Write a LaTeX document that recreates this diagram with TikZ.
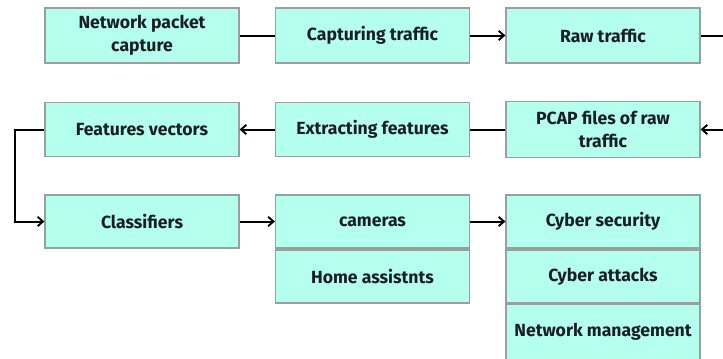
\documentclass[tikz,border=0pt]{standalone}
\usepackage{fontspec}
\setmainfont{Fira Sans}
\usetikzlibrary{arrows.meta}
\definecolor{boxfill}{RGB}{181,255,238}
\definecolor{boxline}{RGB}{150,160,158}
\definecolor{txt}{RGB}{25,30,35}
\begin{document}
\begin{tikzpicture}[x=0.75pt,y=-0.75pt,
  box/.style={draw=boxline,line width=0.9pt,fill=boxfill,minimum width=194*0.75pt,
    minimum height=#1*0.75pt,inner sep=0pt,align=center,text=txt,
    font=\fontsize{13.2}{17.5}\selectfont\bfseries},
  box/.default=54,
  conn/.style={line width=1.5pt,black},
  arr/.style={conn,-{Straight Barb[length=4pt,width=7pt,line width=1.4pt]}}]
\useasboundingbox (0,0) rectangle (723,358);
% row 1
\node[box=55] (npc) at (142,35.5) {Network packet\\capture};
\node[box=55] (cap) at (372.5,35.5) {Capturing traffic};
\node[box=55] (raw) at (603,35.5) {Raw traffic};
% row 2
\node[box=54] (fv) at (142,129.5) {Features vectors};
\node[box=54] (ext) at (372.5,129.5) {Extracting features};
\node[box=56] (pcap) at (603,129.5) {PCAP files of raw\\traffic};
% row 3
\node[box=53] (cls) at (142,221.5) {Classifiers};
\node[box=53] (cam) at (372.5,221.5) {cameras};
\node[box=53] (home) at (372.5,276.5) {Home assistnts};
\node[box=53] (cyb) at (603,221.5) {Cyber security};
\node[box=53] (att) at (603,276.5) {Cyber attacks};
\node[box=56] (net) at (603,332) {Network management};
% connectors
\coordinate (rtop) at (728,35.5);
\coordinate (rbot) at (728,129.5);
\coordinate (lmid) at (15,129.5);
\draw[conn] (npc) -- (cap);
\draw[arr] (cap) -- (raw);
\draw[arr] (raw.east) -- (rtop) -- (rbot) -- (pcap.east);
\draw[conn] (pcap) -- (ext);
\draw[arr] (ext) -- (fv);
\draw[arr] (fv.west) -- (lmid) |- (cls.west);
\draw[arr] (cls) -- (cam);
\draw[arr] (cam) -- (cyb);
\end{tikzpicture}
\end{document}
